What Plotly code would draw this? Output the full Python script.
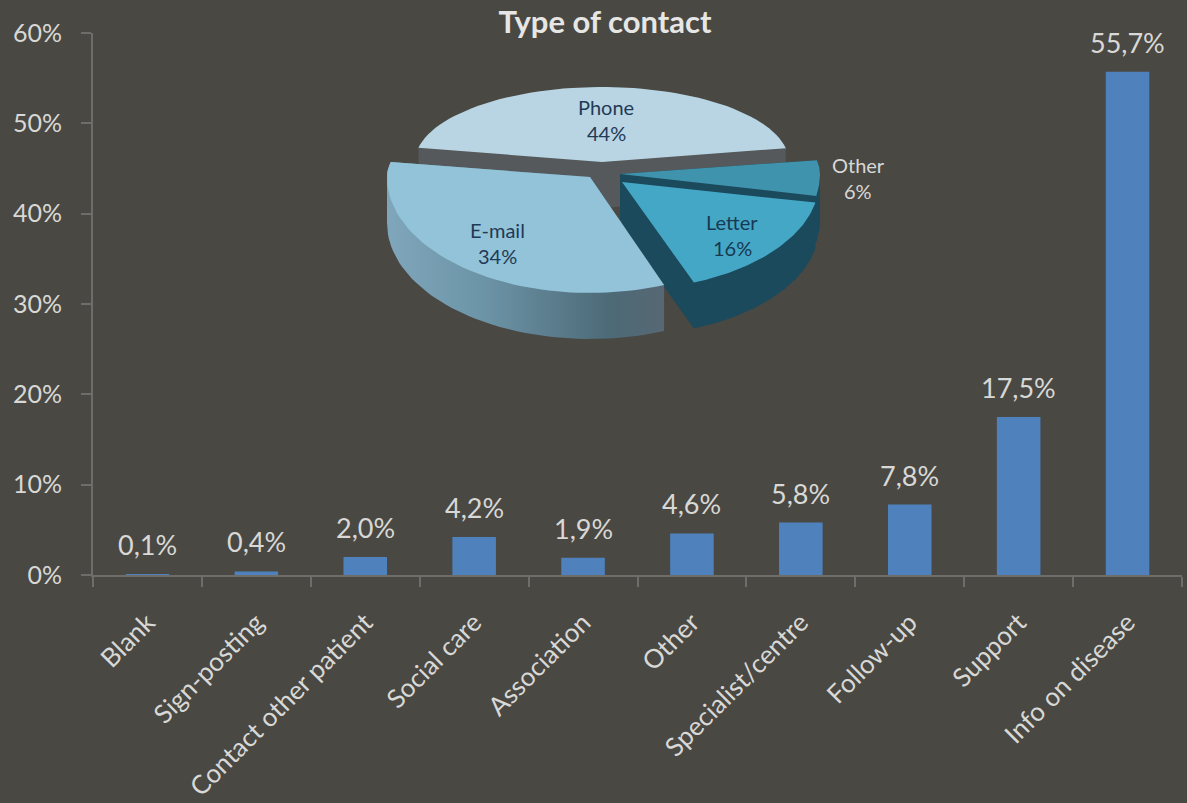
import numpy as np
import plotly.graph_objects as go

# ---- data ----
categories = ["Blank", "Sign-posting", "Contact other patient", "Social care", "Association",
              "Other", "Specialist/centre", "Follow-up", "Support", "Info on disease"]
bar_values = [0.1, 0.4, 2.0, 4.2, 1.9, 4.6, 5.8, 7.8, 17.5, 55.7]
y_ticks = [0, 10, 20, 30, 40, 50, 60]
y_tick_labels = ["0%", "10%", "20%", "30%", "40%", "50%", "60%"]
pie_labels = ["Phone", "Other", "Letter", "E-mail"]
pie_values = [44, 6, 16, 34]

# ---- style ----
BG = "#4a4843"
TXT = "#d8d8d6"
AXIS = "#6e6d69"
FONT = "Lato, Carlito, 'Open Sans', sans-serif"
W, H = 1187, 803
L, R, T, B = 93, 1182, 33, 575

# pie drawn on a hidden overlay axis whose units are page pixels
slice_geom = {
    "Phone":  dict(cx=602, cy=162, rx=187, up=75, down=75, top="#b9d5e3", wall="#55595b"),
    "Other":  dict(cx=620, cy=174, rx=200, up=78, down=115, top="#3f93ad", wall="#1b4a5c"),
    "Letter": dict(cx=622, cy=182, rx=197, up=78, down=108, top="#45a7c6", wall="#1b4a5c"),
    "E-mail": dict(cx=590, cy=177, rx=203, up=78, down=116, top="#93c3d8", wall=None),
}
label_pos = {"Phone": (606, 107, "#1f3a56"), "Other": (858, 165, "#d8d8d6"),
             "Letter": (732, 222, "#173a52"), "E-mail": (497, 230, "#1f3a56")}
DEPTH = 46
START_ANGLE = 169.0
draw_order = ["Phone", "Other", "Letter", "E-mail"]


def sector(g, a0, a1):
    th = np.radians(np.linspace(a0, a1, 60))
    s = np.sin(th)
    x = g["cx"] + g["rx"] * np.cos(th)
    y = g["cy"] - np.where(s > 0, g["up"], g["down"]) * s
    return np.r_[g["cx"], x, g["cx"]], np.r_[g["cy"], y, g["cy"]]


def hull(x, y):
    pts = sorted(set(zip(x.tolist(), y.tolist())))
    def half(p):
        out = []
        for q in p:
            while len(out) > 1 and ((out[-1][0]-out[-2][0])*(q[1]-out[-2][1])
                                    - (out[-1][1]-out[-2][1])*(q[0]-out[-2][0])) <= 0:
                out.pop()
            out.append(q)
        return out[:-1]
    h = half(pts) + half(pts[::-1])
    h.append(h[0])
    return [p[0] for p in h], [p[1] for p in h]


fig = go.Figure()
fig.add_trace(go.Bar(x=categories, y=bar_values, marker=dict(color="#4f81bd", line_width=0),
                     width=0.4, hoverinfo="x+y", showlegend=False))

total = sum(pie_values)
angles = {}
a = START_ANGLE
for name, v in zip(pie_labels, pie_values):
    angles[name] = (a, a - 360.0 * v / total)
    a -= 360.0 * v / total

for name in draw_order:
    g = slice_geom[name]
    a0, a1 = angles[name]
    sx, sy = sector(g, a0, a1)
    hx, hy = hull(np.r_[sx, sx], np.r_[sy, sy + DEPTH])
    wall = dict(mode="lines", line_width=0, fill="toself", xaxis="x2", yaxis="y2",
                hoverinfo="skip", showlegend=False)
    if g["wall"]:
        fig.add_trace(go.Scatter(x=hx, y=hy, fillcolor=g["wall"], **wall))
    else:
        fig.add_trace(go.Scatter(x=hx, y=hy, fillgradient=dict(
            type="horizontal",
            colorscale=[[0, "#7fa6ba"], [0.35, "#6c94a7"], [0.8, "#4d6a77"], [1, "#566873"]]), **wall))
    fig.add_trace(go.Scatter(x=sx, y=sy, mode="lines", line_width=0, fill="toself",
                             fillcolor=g["top"], xaxis="x2", yaxis="y2",
                             hoverinfo="skip", showlegend=False))

ann = []
for c, v in zip(categories, bar_values):
    ann.append(dict(x=c, y=v, xref="x", yref="y", yanchor="bottom", yshift=11, showarrow=False,
                    text=f"{v:.1f}".replace(".", ",") + "%", font=dict(size=27, color=TXT, family=FONT)))
for name, v in zip(pie_labels, pie_values):
    px, py, col = label_pos[name]
    for dy, t in ((0, name), (26, f"{v}%")):
        ann.append(dict(x=px, y=py + dy, xref="x2", yref="y2", showarrow=False, text=t,
                        font=dict(size=20, color=col, family=FONT)))

fig.update_layout(
    width=W, height=H, autosize=False,
    margin=dict(l=L, r=W - R, t=T, b=H - B, autoexpand=False),
    paper_bgcolor=BG, plot_bgcolor=BG, showlegend=False,
    font=dict(family=FONT, color=TXT, size=24),
    annotations=ann,
    title=dict(text="<b>Type of contact</b>", x=605 / W, xanchor="center", xref="container",
               y=1 - 22 / H, yanchor="middle", yref="container",
               font=dict(size=31, color="#e6e6e4", family=FONT)),
    xaxis=dict(type="category", categoryorder="array", categoryarray=categories, tickson="boundaries",
               tickangle=-45, ticks="outside", ticklen=10, tickwidth=2, tickcolor=AXIS,
               showline=True, linecolor=AXIS, linewidth=2, showgrid=False, zeroline=False,
               ticklabelstandoff=20,
               tickfont=dict(size=26, color=TXT, family=FONT)),
    yaxis=dict(range=[0, 60], tickmode="array", tickvals=y_ticks, ticktext=y_tick_labels,
               ticks="outside", ticklen=10, tickwidth=2, ticklabelstandoff=14,
               tickcolor=AXIS, showline=True, linecolor=AXIS, linewidth=2, showgrid=False, zeroline=False,
               tickfont=dict(size=25, color=TXT, family=FONT)),
    xaxis2=dict(overlaying="x", range=[L, R], visible=False, fixedrange=True),
    yaxis2=dict(overlaying="y", range=[B, T], visible=False, fixedrange=True),
)

fig.write_html("out.html", post_script="document.body.style.margin='0';",
               config=dict(displayModeBar=False))
